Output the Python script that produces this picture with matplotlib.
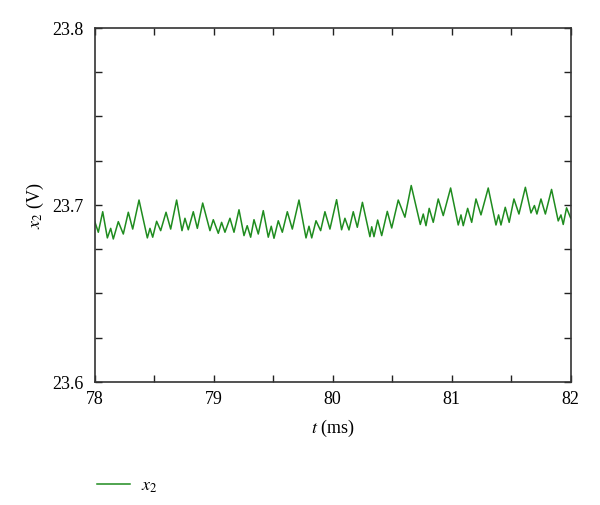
import matplotlib
matplotlib.use("Agg")
import matplotlib.pyplot as plt
from matplotlib.ticker import MultipleLocator

plt.rcParams['font.family'] = ['Liberation Serif', 'DejaVu Serif']
plt.rcParams['mathtext.fontset'] = 'stix'

# time (ms) and x2 (V)
t = [78.000, 78.032, 78.069, 78.108, 78.136, 78.158, 78.200, 78.242, 78.284, 78.321,
     78.374, 78.444, 78.466, 78.489, 78.522, 78.556, 78.601, 78.640, 78.690, 78.735,
     78.760, 78.788, 78.830, 78.864, 78.909, 78.970, 78.998, 79.040, 79.068, 79.096,
     79.138, 79.172, 79.214, 79.256, 79.283, 79.312, 79.340, 79.376, 79.418, 79.460,
     79.485, 79.508, 79.544, 79.578, 79.620, 79.662, 79.718, 79.777, 79.802, 79.825,
     79.861, 79.900, 79.936, 79.978, 80.034, 80.076, 80.104, 80.138, 80.174, 80.208,
     80.251, 80.314, 80.329, 80.348, 80.379, 80.413, 80.460, 80.497, 80.552, 80.608,
     80.661, 80.737, 80.762, 80.785, 80.812, 80.846, 80.888, 80.930, 80.992, 81.056,
     81.079, 81.098, 81.135, 81.169, 81.205, 81.247, 81.308, 81.373, 81.395, 81.415,
     81.451, 81.484, 81.524, 81.566, 81.620, 81.667, 81.696, 81.717, 81.751, 81.788,
     81.840, 81.896, 81.919, 81.938, 81.966, 82.000]
x2 = [23.6911, 23.6846, 23.6962, 23.6814, 23.6868, 23.6808, 23.6906, 23.6836, 23.6959, 23.6864,
      23.7028, 23.6814, 23.6868, 23.6818, 23.6908, 23.6855, 23.6959, 23.6864, 23.7028, 23.6855,
      23.6925, 23.6860, 23.6962, 23.6868, 23.7011, 23.6855, 23.6917, 23.6840, 23.6902, 23.6846,
      23.6925, 23.6846, 23.6973, 23.6827, 23.6883, 23.6818, 23.6917, 23.6836, 23.6968, 23.6818,
      23.6880, 23.6812, 23.6911, 23.6846, 23.6962, 23.6864, 23.7028, 23.6814, 23.6880, 23.6814,
      23.6911, 23.6855, 23.6962, 23.6864, 23.7030, 23.6860, 23.6925, 23.6859, 23.6962, 23.6874,
      23.7015, 23.6821, 23.6877, 23.6821, 23.6915, 23.6827, 23.6964, 23.6870, 23.7028, 23.6931,
      23.7110, 23.6890, 23.6949, 23.6883, 23.6981, 23.6902, 23.7034, 23.6940, 23.7096, 23.6887,
      23.6944, 23.6883, 23.6981, 23.6902, 23.7034, 23.6944, 23.7096, 23.6887, 23.6944, 23.6887,
      23.6987, 23.6902, 23.7034, 23.6949, 23.7100, 23.6955, 23.6997, 23.6949, 23.7034, 23.6949,
      23.7088, 23.6910, 23.6944, 23.6890, 23.6984, 23.6927]

xticks = [78, 79, 80, 81, 82]
yticks = [23.6, 23.7, 23.8]

fig = plt.figure(figsize=(6, 5.06), dpi=100)
ax = fig.add_axes([0.1575, 0.2431, 0.7935, 0.6996])

line, = ax.plot(t, x2, color='#1f8c1f', lw=1.1)

ax.set_xlim(78, 82)
ax.set_ylim(23.6, 23.8)
ax.set_xticks(xticks)
ax.set_yticks(yticks)
ax.xaxis.set_minor_locator(MultipleLocator(0.5))
ax.yaxis.set_minor_locator(MultipleLocator(0.025))
ax.tick_params(which='both', direction='in', top=True, right=True,
               labelsize=13, width=1, color='#222222', length=5)
ax.tick_params(axis='x', pad=6)
ax.tick_params(axis='y', pad=8)
for s in ax.spines.values():
    s.set_linewidth(1.2)
    s.set_color('#333333')

ax.set_xlabel('$t$ (ms)', fontsize=13, labelpad=7)
ax.set_ylabel('$x_2$ (V)', fontsize=13, labelpad=4)

fig.legend([line], ['$x_2$'], loc='center left', bbox_to_anchor=(0.135, 0.038),
           frameon=False, fontsize=13, handlelength=1.8, handletextpad=0.6)

fig.savefig('out.png', dpi=100)
